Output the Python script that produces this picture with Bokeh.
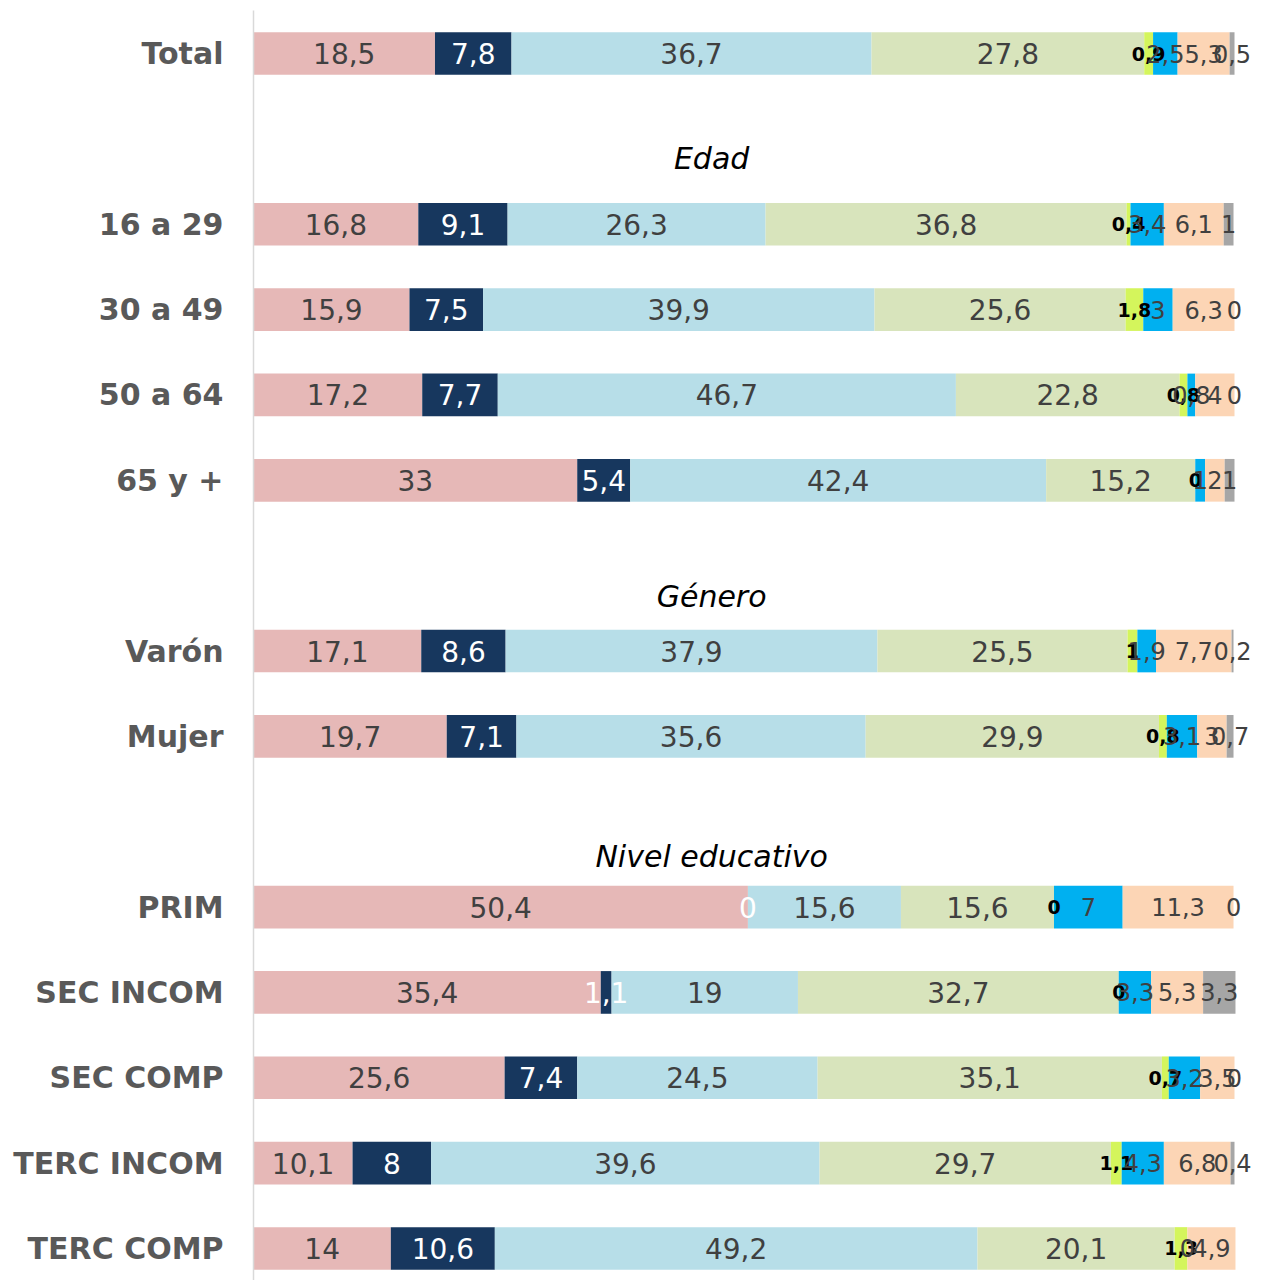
import numpy as np
from bokeh.plotting import figure
from bokeh.models import Range1d, FixedTicker, ColumnDataSource
from bokeh.core.properties import value
from bokeh.embed import file_html
from bokeh.resources import INLINE

# ---------------- data ----------------
categories = ["Total", "16 a 29", "30 a 49", "50 a 64", "65 y +", "Varón", "Mujer",
              "PRIM", "SEC INCOM", "SEC COMP", "TERC INCOM", "TERC COMP"]
slots = [0, 2, 3, 4, 5, 7, 8, 10, 11, 12, 13, 14]

headers = ["Edad", "Género", "Nivel educativo"]
header_slots = [1.23, 6.36, 9.41]

s_pink   = [18.5, 16.8, 15.9, 17.2, 33.0, 17.1, 19.7, 50.4, 35.4, 25.6, 10.1, 14.0]
s_navy   = [7.8, 9.1, 7.5, 7.7, 5.4, 8.6, 7.1, 0.0, 1.1, 7.4, 8.0, 10.6]
s_lblue  = [36.7, 26.3, 39.9, 46.7, 42.4, 37.9, 35.6, 15.6, 19.0, 24.5, 39.6, 49.2]
s_lgreen = [27.8, 36.8, 25.6, 22.8, 15.2, 25.5, 29.9, 15.6, 32.7, 35.1, 29.7, 20.1]
s_yellow = [0.9, 0.4, 1.8, 0.8, 0.0, 1.0, 0.8, 0.0, 0.0, 0.7, 1.1, 1.3]
s_blue   = [2.5, 3.4, 3.0, 0.8, 1.0, 1.9, 3.1, 7.0, 3.3, 3.2, 4.3, 0.0]
s_peach  = [5.3, 6.1, 6.3, 4.0, 2.0, 7.7, 3.0, 11.3, 5.3, 3.5, 6.8, 4.9]
s_gray   = [0.5, 1.0, 0.0, 0.0, 1.0, 0.2, 0.7, 0.0, 3.3, 0.0, 0.4, np.nan]

series = [s_pink, s_navy, s_lblue, s_lgreen, s_yellow, s_blue, s_peach, s_gray]
colors = ["#E6B8B7", "#17375E", "#B7DEE8", "#D8E4BC", "#D4F55C", "#00B0F0", "#FCD5B5", "#A6A6A6"]
label_colors = ["#404040", "#FFFFFF", "#404040", "#404040", "#000000", "#404040", "#404040", "#404040"]
label_sizes = ["28px", "28px", "28px", "28px", "19px", "24px", "24px", "24px"]
label_styles = ["normal", "normal", "normal", "normal", "bold", "normal", "normal", "normal"]

FONT = "DejaVu Sans"

# ---------------- figure ----------------
px_per_unit = 9.81
frame_w = 1004
frame_h = 1270
p = figure(width=253 + frame_w, height=10 + frame_h, frame_width=frame_w, frame_height=frame_h,
           output_backend="svg", toolbar_location=None,
           x_range=Range1d(0, frame_w / px_per_unit),
           y_range=Range1d(14.375, -0.504),
           min_border_left=253, min_border_right=0, min_border_top=10, min_border_bottom=0)
p.outline_line_color = None
p.xaxis.visible = False
p.xgrid.visible = False
p.ygrid.visible = False
p.background_fill_color = "white"
p.border_fill_color = "white"

ax = p.yaxis[0]
ax.ticker = FixedTicker(ticks=slots)
ax.major_label_overrides = {s: c for s, c in zip(slots, categories)}
ax.major_tick_line_color = None
ax.minor_tick_line_color = None
ax.axis_line_color = "#D9D9D9"
ax.axis_line_width = 1.5
ax.major_label_standoff = 24
ax.major_label_text_font = FONT
ax.major_label_text_font_size = "30px"
ax.major_label_text_font_style = "bold"
ax.major_label_text_color = "#595959"

# ---------------- bars ----------------
y = np.array(slots, dtype=float)
left = np.zeros(len(slots))
label_sources = []
for vals, col in zip(series, colors):
    v = np.array(vals, dtype=float)
    w = np.nan_to_num(v)
    right = left + w
    src = ColumnDataSource(dict(y=y, left=left, right=right))
    p.hbar(y="y", left="left", right="right", height=0.5, source=src,
           fill_color=col, line_color=None)
    mask = ~np.isnan(v)
    centers = (left + right) / 2
    texts = [f"{x:g}".replace(".", ",") for x in v[mask]]
    label_sources.append(ColumnDataSource(dict(x=centers[mask], y=y[mask], t=texts)))
    left = right

# ---------------- value labels (drawn after all bars) ----------------
for tsrc, lc, ls, lst in zip(label_sources, label_colors, label_sizes, label_styles):
    p.text(x="x", y="y", text="t", source=tsrc, text_align="center", text_baseline="middle",
           text_font=value(FONT), text_font_size=ls, text_color=lc, text_font_style=lst)

# ---------------- section headers ----------------
hsrc = ColumnDataSource(dict(x=[46.7] * len(headers), y=header_slots, t=headers))
p.text(x="x", y="y", text="t", source=hsrc, text_align="center", text_baseline="middle",
       text_font=value(FONT), text_font_size="30px", text_font_style="italic", text_color="#000000")

open("out.html", "w").write(file_html(p, INLINE))
